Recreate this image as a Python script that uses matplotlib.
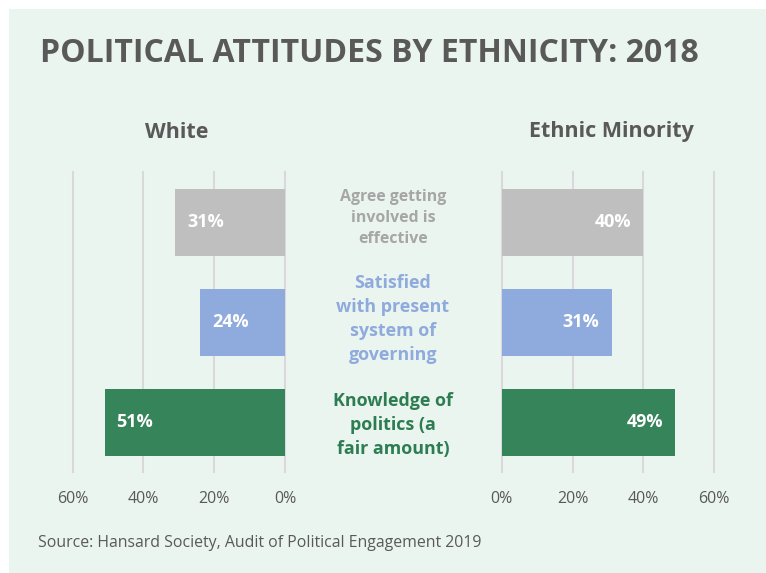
import matplotlib.pyplot as plt
from matplotlib.patches import Rectangle

plt.rcParams['font.family'] = ['Open Sans', 'DejaVu Sans']

# data
categories = ['Agree getting\ninvolved is\neffective',
              'Satisfied\nwith present\nsystem of\ngoverning',
              'Knowledge of\npolitics (a\nfair amount)']
white = [31, 24, 51]
minority = [40, 31, 49]
ticks = [0, 20, 40, 60]
tick_labels = ['0%', '20%', '40%', '60%']

bar_colors = ['#bfbfbf', '#8faadc', '#35845a']
text_colors = ['#a6a6a6', '#8faadc', '#2e7d52']
dark = '#595959'
grid_col = '#d9d9d9'
bg = '#ebf5f0'

W, H = 766, 573
fig = plt.figure(figsize=(W / 100, H / 100), dpi=100)
fig.patch.set_facecolor('white')
fig.patches.append(Rectangle((9 / W, 0), 1 - 9 / W, 1 - 9 / H,
                             transform=fig.transFigure, facecolor=bg,
                             edgecolor='none', zorder=-5))


def px_axes(x0, x1, y0, y1):
    return fig.add_axes([x0 / W, 1 - y1 / H, (x1 - x0) / W, (y1 - y0) / H])


ax_l = px_axes(72.7, 285, 172, 472)
ax_r = px_axes(501.7, 714.3, 172, 472)

ypos = list(range(len(categories)))
for ax, vals, side in [(ax_l, white, 'left'), (ax_r, minority, 'right')]:
    ax.set_facecolor('none')
    ax.barh(ypos, vals, height=0.67, color=bar_colors, zorder=2)
    ax.set_ylim(2.5, -0.5)
    if side == 'left':
        ax.set_xlim(60, 0)
    else:
        ax.set_xlim(0, 60)
    ax.set_xticks(ticks)
    ax.set_xticklabels(tick_labels, color=dark, fontsize=11.5)
    ax.tick_params(axis='x', length=0, pad=14)
    ax.set_yticks([])
    for s in ax.spines.values():
        s.set_visible(False)
    ax.grid(axis='x', color=grid_col, linewidth=1.5, zorder=1)
    ax.set_axisbelow(True)
    for gl in ax.get_xgridlines():
        gl.set_clip_on(False)
    for y, v in zip(ypos, vals):
        if side == 'left':
            ax.text(v - 3.4, y, f'{v}%', ha='left', va='center',
                    color='white', fontsize=13, fontweight='bold', zorder=3)
        else:
            ax.text(v - 3.4, y, f'{v}%', ha='right', va='center',
                    color='white', fontsize=13, fontweight='bold', zorder=3)

# centre labels
label_y = [218, 319, 425]
label_size = [11.4, 12.9, 12.9]
label_spacing = [1.4, 1.44, 1.45]
for cat, yy, c, fs, ls in zip(categories, label_y, text_colors, label_size, label_spacing):
    fig.text(393 / W, 1 - yy / H, cat, ha='center', va='center', color=c,
             fontsize=fs, fontweight='bold', linespacing=ls)

fig.text(40 / W, 1 - 53 / H, 'POLITICAL ATTITUDES BY ETHNICITY: 2018',
         ha='left', va='center', color=dark, fontsize=23, fontweight='bold')
fig.text(177 / W, 1 - 132 / H, 'White', ha='center', va='center',
         color=dark, fontsize=15.5, fontweight='bold')
fig.text(611 / W, 1 - 132 / H, 'Ethnic Minority', ha='center', va='center',
         color=dark, fontsize=15.5, fontweight='bold')
fig.text(38 / W, 1 - 543 / H, 'Source: Hansard Society, Audit of Political Engagement 2019',
         ha='left', va='center', color=dark, fontsize=11.4)

fig.savefig('out.png', dpi=100, facecolor=fig.get_facecolor())
